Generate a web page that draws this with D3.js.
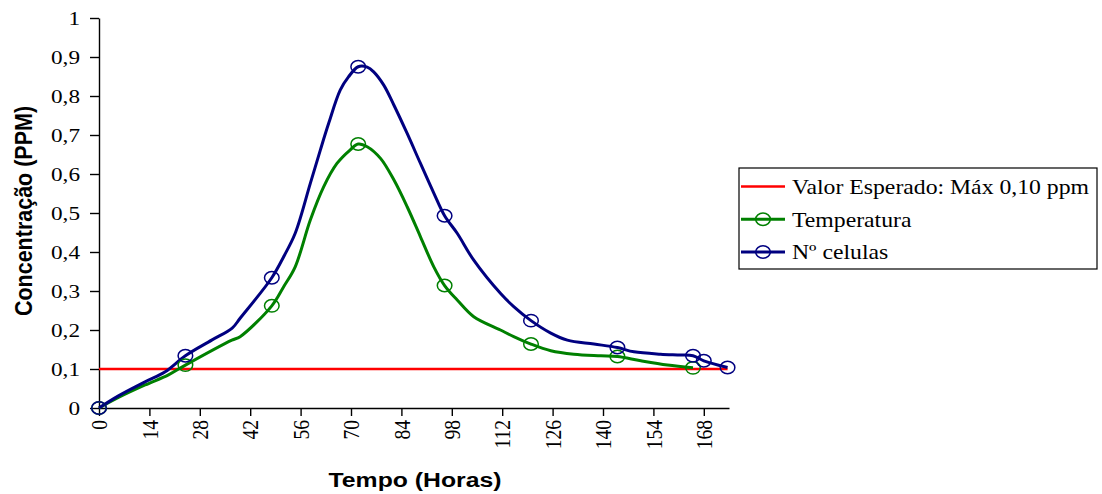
<!DOCTYPE html>
<html>
<head>
<meta charset="utf-8">
<script src="https://cdn.jsdelivr.net/npm/d3@7/dist/d3.min.js"></script>
<style>
  html, body { margin: 0; padding: 0; background: #fff; }
  svg { display: block; }
</style>
</head>
<body>
<svg id="chart" width="1102" height="494"></svg>
<script>
// ---- data -------------------------------------------------------------
const xTicks = [0, 14, 28, 42, 56, 70, 84, 98, 112, 126, 140, 154, 168];
const yTicks = [0, 0.1, 0.2, 0.3, 0.4, 0.5, 0.6, 0.7, 0.8, 0.9, 1];
const yTickLabels = ["0", "0,1", "0,2", "0,3", "0,4", "0,5", "0,6", "0,7", "0,8", "0,9", "1"];

const seriesNames = ["Valor Esperado: Máx 0,10 ppm", "Temperatura", "Nº celulas"];

// expected maximum (ppm)
const limiteHoras = [0, 174.6];
const limiteValores = [0.1, 0.1];

// measured points (hours, ppm)
const temperaturaHoras = [0, 24, 48, 72, 96, 120, 144, 165];
const temperaturaValores = [0, 0.110, 0.262, 0.677, 0.314, 0.164, 0.132, 0.103];

const celulasHoras = [0, 24, 48, 72, 96, 120, 144, 165, 168, 174.6];
const celulasValores = [0, 0.134, 0.334, 0.875, 0.493, 0.224, 0.155, 0.134, 0.121, 0.104];

// smoothed trend lines (hours, ppm)
const temperaturaCurvaHoras = [0, 5.4, 12.8, 19.3, 24, 36.9, 39.2, 48, 51.3, 54.5, 58.7, 62.4, 66.1, 69.8, 72, 74.5, 78.2, 81.9, 85.6, 89.3, 93.0, 96, 99.5, 104.1, 111.5, 115.2, 120, 125.5, 131.9, 139.4, 144, 150.5, 157.9, 165];
const temperaturaCurvaValores = [0, 0.027, 0.059, 0.085, 0.110, 0.174, 0.183, 0.262, 0.311, 0.362, 0.482, 0.567, 0.627, 0.662, 0.677, 0.670, 0.640, 0.585, 0.516, 0.439, 0.362, 0.314, 0.277, 0.234, 0.200, 0.183, 0.164, 0.147, 0.138, 0.134, 0.132, 0.121, 0.110, 0.103];

const celulasCurvaHoras = [0, 5.4, 12.8, 18.4, 24, 31.3, 37.0, 39.2, 48, 51.3, 54.5, 58.7, 61.5, 63.8, 67.0, 69.3, 72, 74.5, 76.3, 79.1, 81.9, 85.6, 89.3, 93.0, 96, 99.5, 104.1, 111.5, 115.2, 120, 125.5, 130.1, 137.5, 144, 148.6, 156.0, 161.6, 165, 168, 174.6];
const celulasCurvaValores = [0, 0.031, 0.067, 0.093, 0.134, 0.174, 0.205, 0.230, 0.334, 0.388, 0.448, 0.576, 0.662, 0.730, 0.815, 0.849, 0.875, 0.874, 0.862, 0.828, 0.777, 0.704, 0.627, 0.551, 0.493, 0.448, 0.379, 0.294, 0.260, 0.224, 0.192, 0.174, 0.164, 0.155, 0.144, 0.138, 0.136, 0.134, 0.121, 0.104];

// ---- layout -------------------------------------------------------------
const plot = { left: 99, right: 729, top: 18, bottom: 408 };
const SX = 1.19;            // horizontal text stretch
const serif = "'Liberation Serif', 'Times New Roman', serif";
const sans = "'Liberation Sans', Arial, sans-serif";
const colors = { limite: "#ff0000", temperatura: "#008000", celulas: "#000080" };

const svg = d3.select("#chart");

const x = d3.scaleLinear().domain([0, 175]).range([plot.left, plot.right]);
const y = d3.scaleLinear().domain([0, 1]).range([plot.bottom, plot.top]);

// ---- axes ---------------------------------------------------------------
const xAxis = d3.axisBottom(x).tickValues(xTicks).tickSize(8).tickSizeOuter(0).tickFormat("");
const yAxis = d3.axisLeft(y).tickValues(yTicks).tickSize(9).tickSizeOuter(0).tickFormat("");

const gx = svg.append("g").attr("transform", `translate(0,${plot.bottom})`).call(xAxis);
const gy = svg.append("g").attr("transform", `translate(${plot.left},0)`).call(yAxis);
[gx, gy].forEach(g => {
  g.selectAll("path.domain").attr("stroke", "#000").attr("stroke-width", 1.4);
  g.selectAll(".tick line").attr("stroke", "#000").attr("stroke-width", 1.4);
});

// y tick labels
svg.append("g").selectAll("text")
  .data(yTicks)
  .join("text")
  .attr("transform", d => `translate(80,${y(d)}) scale(${SX},1)`)
  .attr("dy", "0.35em")
  .attr("text-anchor", "end")
  .attr("font-family", serif)
  .attr("font-size", 19.5)
  .attr("fill", "#000")
  .text((d, i) => yTickLabels[i]);

// x tick labels (rotated)
svg.append("g").selectAll("text")
  .data(xTicks)
  .join("text")
  .attr("transform", d => `translate(${x(d)},420) scale(${SX},1) rotate(-90)`)
  .attr("dy", "0.35em")
  .attr("text-anchor", "end")
  .attr("font-family", serif)
  .attr("font-size", 19.5)
  .attr("fill", "#000")
  .text(d => d);

// axis titles
svg.append("text")
  .attr("transform", `translate(415,487) scale(1.18,1)`)
  .attr("text-anchor", "middle")
  .attr("font-family", sans)
  .attr("font-weight", "bold")
  .attr("font-size", 21)
  .text("Tempo (Horas)");

svg.append("text")
  .attr("transform", `translate(32,211) scale(1.1,1) rotate(-90)`)
  .attr("text-anchor", "middle")
  .attr("font-family", sans)
  .attr("font-weight", "bold")
  .attr("font-size", 21.5)
  .text("Concentração (PPM)");

// ---- series ---------------------------------------------------------------
const line = d3.line()
  .x(d => x(d[0]))
  .y(d => y(d[1]))
  .curve(d3.curveCatmullRom.alpha(0.5));

const zip = (a, b) => a.map((v, i) => [v, b[i]]);

svg.append("path")
  .datum(zip(limiteHoras, limiteValores))
  .attr("d", d3.line().x(d => x(d[0])).y(d => y(d[1])))
  .attr("fill", "none")
  .attr("stroke", colors.limite)
  .attr("stroke-width", 2.5);

svg.append("path")
  .datum(zip(temperaturaCurvaHoras, temperaturaCurvaValores))
  .attr("d", line)
  .attr("fill", "none")
  .attr("stroke", colors.temperatura)
  .attr("stroke-width", 3);

svg.append("path")
  .datum(zip(celulasCurvaHoras, celulasCurvaValores))
  .attr("d", line)
  .attr("fill", "none")
  .attr("stroke", colors.celulas)
  .attr("stroke-width", 3);

function markers(hours, values, color) {
  svg.append("g").selectAll("ellipse")
    .data(zip(hours, values))
    .join("ellipse")
    .attr("cx", d => x(d[0]))
    .attr("cy", d => y(d[1]))
    .attr("rx", 7.3)
    .attr("ry", 6.2)
    .attr("fill", "none")
    .attr("stroke", color)
    .attr("stroke-width", 1.5);
}
markers(temperaturaHoras, temperaturaValores, colors.temperatura);
markers(celulasHoras, celulasValores, colors.celulas);

// ---- legend ---------------------------------------------------------------
const legend = svg.append("g");
legend.append("rect")
  .attr("x", 739).attr("y", 168)
  .attr("width", 358).attr("height", 101)
  .attr("fill", "#fff")
  .attr("stroke", "#000")
  .attr("stroke-width", 1.2);

const legendRows = [
  { name: seriesNames[0], color: colors.limite, marker: false },
  { name: seriesNames[1], color: colors.temperatura, marker: true },
  { name: seriesNames[2], color: colors.celulas, marker: true }
];
const rowY = d3.scalePoint().domain(d3.range(legendRows.length)).range([186.5, 252]);

legendRows.forEach((r, i) => {
  const cy = rowY(i);
  legend.append("line")
    .attr("x1", 741).attr("x2", 785)
    .attr("y1", cy).attr("y2", cy)
    .attr("stroke", r.color).attr("stroke-width", r.marker ? 3 : 2.5);
  if (r.marker) {
    legend.append("ellipse")
      .attr("cx", 763).attr("cy", cy)
      .attr("rx", 7.3).attr("ry", 6.2)
      .attr("fill", "none").attr("stroke", r.color).attr("stroke-width", 1.5);
  }
  legend.append("text")
    .attr("transform", `translate(792,${cy}) scale(1.13,1)`)
    .attr("dy", "0.35em")
    .attr("font-family", serif)
    .attr("font-size", 21)
    .attr("fill", "#000")
    .text(r.name);
});
</script>
</body>
</html>
